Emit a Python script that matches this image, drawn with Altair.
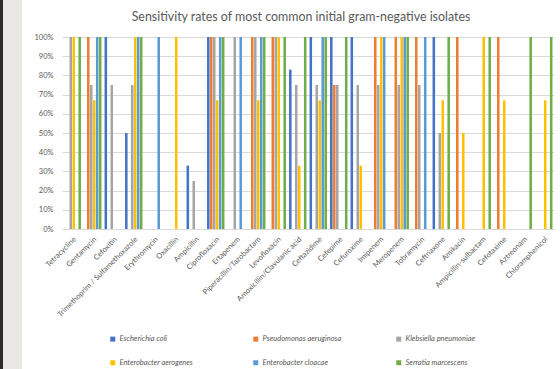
import altair as alt
import pandas as pd

antibiotics = [
    "Tetracycline", "Gentamycin", "Cefoxitin", "Trimethoprim / Sulfamethoxazole",
    "Erythromycin", "Oxacillin", "Ampicillin", "Ciprofloxacin", "Ertapenem",
    "Piperacillin/Tazobactam", "Levofloxacin", "Amoxicillin/Clavulanic acid",
    "Ceftazidime", "Cefepime", "Cefuroxime", "Imipenem", "Meropenem",
    "Tobramycin", "Ceftriaxone", "Amikacin", "Ampicillin-sulbactam",
    "Cefotaxime", "Aztreonam", "Chloramphenicol",
]

series_names = [
    "Escherichia coli", "Pseudomonas aeruginosa", "Klebsiella pneumoniae",
    "Enterobacter aerogenes", "Enterobacter cloacae", "Serratia marcescens",
]

N = None
e_coli       = [N, N, 100, 50, N, N, 33, 100, N, N, N, 83, 100, 100, 100, N, N, N, 100, N, N, N, N, N]
pseudomonas  = [N, 100, N, N, N, N, N, 100, N, 100, 100, N, N, 75, N, 100, 100, 100, N, 100, N, 100, N, N]
klebsiella   = [100, 75, 75, 75, N, N, 25, 100, 100, 100, 100, 75, 75, 75, 75, 75, 75, 75, 50, N, N, N, N, N]
aerogenes    = [100, 67, N, 100, N, 100, N, 67, N, 67, 100, 33, 67, N, 33, 100, 100, N, 67, 50, 100, 67, N, 67]
cloacae      = [N, 100, N, 100, 100, N, N, 100, 100, 100, N, N, 100, N, N, 100, 100, 100, N, N, N, N, N, N]
serratia     = [100, 100, N, 100, N, N, N, 100, N, 100, 100, 100, 100, 100, N, N, 100, N, 100, N, 100, N, 100, 100]

series_values = [e_coli, pseudomonas, klebsiella, aerogenes, cloacae, serratia]
colors = ["#4472C4", "#ED7D31", "#A5A5A5", "#FFC000", "#5B9BD5", "#70AD47"]

rows = []
for name, vals in zip(series_names, series_values):
    for ab, v in zip(antibiotics, vals):
        if v is not None:
            rows.append({"Antibiotic": ab, "Organism": name, "Rate": v / 100})
df = pd.DataFrame(rows)

FONT = "Lato"
GRAY = "#595959"

bars = alt.Chart(df).mark_bar().encode(
    x=alt.X("Antibiotic:N", sort=antibiotics,
            scale=alt.Scale(paddingInner=0.15, paddingOuter=0.075),
            axis=alt.Axis(title=None, labelAngle=-45, labelFontSize=7.5, labelColor=GRAY,
                          labelFont=FONT, ticks=False, domainColor="#d9d9d9",
                          labelPadding=6, labelLimit=200)),
    xOffset=alt.XOffset("Organism:N", sort=series_names,
                        scale=alt.Scale(domain=series_names, paddingInner=0.15, paddingOuter=0)),
    y=alt.Y("Rate:Q", scale=alt.Scale(domain=[0, 1]),
            axis=alt.Axis(title=None, format="%", values=[i / 10 for i in range(11)],
                          labelFontSize=7.5, labelColor=GRAY, labelFont=FONT,
                          ticks=False, domain=False, gridColor="#d9d9d9",
                          labelPadding=9)),
    color=alt.Color("Organism:N", sort=series_names,
                    scale=alt.Scale(domain=series_names, range=colors),
                    legend=alt.Legend(title=None, orient="none", legendX=47, legendY=298,
                                      direction="horizontal", columns=3, gridAlign="all",
                                      columnPadding=53, rowPadding=15,
                                      symbolType="square", symbolSize=25, symbolStrokeWidth=0,
                                      labelFontStyle="italic", labelFontSize=7.5,
                                      labelColor=GRAY, labelFont=FONT, padding=0,
                                      symbolOffset=0, labelOffset=3)),
)

strip_data = alt.Data(values=[{"k": 1}])
strip_light = alt.Chart(strip_data).mark_rect(color="#e9e7e4").encode(
    x=alt.value(-62), x2=alt.value(-40), y=alt.value(-37), y2=alt.value(332))
strip_dark = alt.Chart(strip_data).mark_rect(color="#2b2b2b").encode(
    x=alt.value(-62), x2=alt.value(-59), y=alt.value(-37), y2=alt.value(332))

chart = alt.layer(strip_light, strip_dark, bars).properties(
    width=492, height=192,
    autosize=alt.AutoSizeParams(type="none"),
    padding={"left": 62, "top": 37, "right": 6, "bottom": 140},
    background="white",
    title=alt.TitleParams("Sensitivity rates of most common initial gram-negative isolates",
                          font=FONT, fontSize=12.4, fontWeight="normal", color=GRAY,
                          anchor="middle", dx=-7, offset=-23),
).configure_view(stroke=None)

chart.save("out.html", embed_options={"renderer": "svg", "actions": False})
